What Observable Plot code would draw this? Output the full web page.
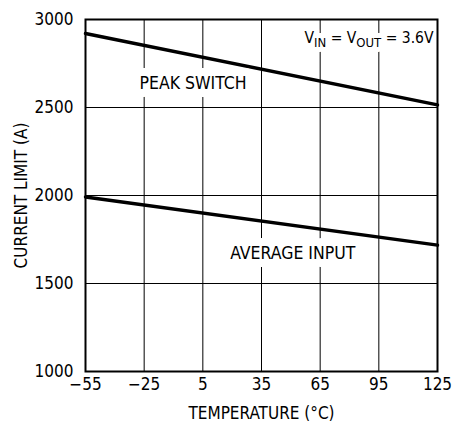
<!DOCTYPE html>
<html>
<head>
<meta charset="utf-8">
<script src="https://cdn.jsdelivr.net/npm/d3@7"></script>
<script src="https://cdn.jsdelivr.net/npm/@observablehq/plot@0.6"></script>
<style>
  html, body { margin: 0; padding: 0; background: #fff; }
</style>
</head>
<body>
<div id="chart"></div>
<script>
// Data
const temperature = [-55, 125];
const peakSwitch = [2920, 2515];
const averageInput = [1992, 1718];
const xTicks = [-55, -25, 5, 35, 65, 95, 125];
const yTicks = [1000, 1500, 2000, 2500, 3000];
const seriesLabels = [
  {x: 0, y: 2639, text: "PEAK SWITCH"},
  {x: 51, y: 1672, text: "AVERAGE INPUT"}
];
const conditionLabel = "VIN = VOUT = 3.6V";
const xLabel = "TEMPERATURE (°C)";
const yLabel = "CURRENT LIMIT (A)";

const peakData = temperature.map((t, i) => ({t, v: peakSwitch[i]}));
const avgData = temperature.map((t, i) => ({t, v: averageInput[i]}));

const font = "'DejaVu Sans Condensed', 'Liberation Sans Narrow', sans-serif";
const fmt = d3.format("d");
const condOpts = {frameAnchor: "top-right", textAnchor: "end", lineAnchor: "middle", dx: -4, dy: 19, fontSize: 15.5, className: "cond"};

const chart = Plot.plot({
  width: 452,
  height: 423,
  marginLeft: 85,
  marginRight: 15,
  marginTop: 19,
  marginBottom: 52,
  style: {fontFamily: font, fontSize: "17px", color: "black", background: "white"},
  x: {domain: [-55, 125]},
  y: {domain: [1000, 3000]},
  marks: [
    Plot.gridX(xTicks, {stroke: "black", strokeOpacity: 1, strokeWidth: 1}),
    Plot.gridY(yTicks, {stroke: "black", strokeOpacity: 1, strokeWidth: 1}),
    Plot.line(peakData, {x: "t", y: "v", stroke: "black", strokeWidth: 3.5}),
    Plot.line(avgData, {x: "t", y: "v", stroke: "black", strokeWidth: 3.5}),
    Plot.text(seriesLabels, {x: "x", y: "y", text: "text", fill: "black", stroke: "white", strokeWidth: 16, fontSize: 17.5}),
    Plot.text([conditionLabel], {...condOpts, fill: "white", stroke: "white", strokeWidth: 10}),
    Plot.text([conditionLabel], {...condOpts, fill: "black"}),
    Plot.frame({stroke: "black", strokeWidth: 2}),
    Plot.axisX(xTicks, {tickSize: 0, tickPadding: 6, label: null, fontSize: 17, tickFormat: fmt}),
    Plot.axisY(yTicks, {tickSize: 0, tickPadding: 12, label: null, fontSize: 17, tickFormat: fmt}),
    Plot.text([xLabel], {frameAnchor: "bottom", lineAnchor: "middle", dy: 42, fontSize: 17, fill: "black"}),
    Plot.text([yLabel], {frameAnchor: "left", textAnchor: "middle", lineAnchor: "middle", dx: -64, rotate: -90, fontSize: 17, fill: "black"})
  ]
});

document.getElementById("chart").appendChild(chart);

// Subscripts for V_IN and V_OUT
chart.querySelectorAll("g.cond text").forEach(t => {
  const parts = [
    {s: "V", dy: 0},
    {s: "IN", dy: 4, sub: true},
    {s: " = V", dy: -4},
    {s: "OUT", dy: 4, sub: true},
    {s: " = 3.6V", dy: -4}
  ];
  while (t.firstChild) t.removeChild(t.firstChild);
  for (const p of parts) {
    const ts = document.createElementNS("http://www.w3.org/2000/svg", "tspan");
    ts.textContent = p.s;
    if (p.dy) ts.setAttribute("dy", p.dy);
    if (p.sub) ts.setAttribute("font-size", "13");
    t.appendChild(ts);
  }
});
</script>
</body>
</html>
